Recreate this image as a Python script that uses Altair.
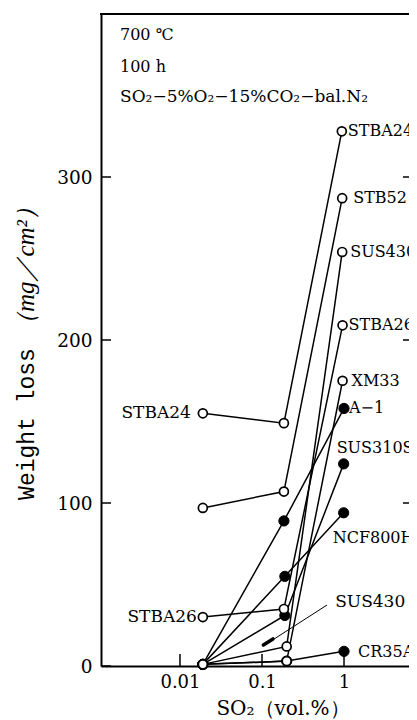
import altair as alt
import pandas as pd

# ---------------- data ----------------
series_names = ["STBA24", "STB52", "STBA26", "SUS430", "XM33",
                "A-1", "NCF800H", "SUS310S", "CR35A"]
series_filled = [False, False, False, False, False, True, True, True, True]

so2_STBA24 = [0.019, 0.185, 0.94]
so2_STB52 = [0.019, 0.185, 0.95]
so2_STBA26 = [0.019, 0.185, 0.96]
so2_SUS430 = [0.019, 0.2, 0.95]
so2_XM33 = [0.019, 0.2, 0.96]
so2_A1 = [0.019, 0.185, 1.0]
so2_NCF800H = [0.019, 0.19, 0.99]
so2_SUS310S = [0.019, 0.19, 0.99]
so2_CR35A = [0.019, 0.2, 1.0]

loss_STBA24 = [155, 149, 328]
loss_STB52 = [97, 107, 287]
loss_STBA26 = [30, 35, 209]
loss_SUS430 = [1, 12, 254]
loss_XM33 = [1, 3, 175]
loss_A1 = [1, 89, 158]
loss_NCF800H = [1, 55, 94]
loss_SUS310S = [1, 31, 124]
loss_CR35A = [1, 3, 9]

x_lists = [so2_STBA24, so2_STB52, so2_STBA26, so2_SUS430, so2_XM33,
           so2_A1, so2_NCF800H, so2_SUS310S, so2_CR35A]
y_lists = [loss_STBA24, loss_STB52, loss_STBA26, loss_SUS430, loss_XM33,
           loss_A1, loss_NCF800H, loss_SUS310S, loss_CR35A]

# label text, series, point index
label_texts = ["STBA24", "STB52", "SUS430", "STBA26", "XM33", "A\u22121",
               "SUS310S", "NCF800H", "CR35A", "STBA24", "STBA26"]
label_series = ["STBA24", "STB52", "SUS430", "STBA26", "XM33", "A-1",
                "SUS310S", "NCF800H", "CR35A", "STBA24", "STBA26"]
label_point = [2, 2, 2, 2, 2, 2, 2, 2, 2, 0, 0]

y_ticks = [0, 100, 200, 300]
x_ticks = [0.01, 0.1, 1]

notes = ["700 \u2103", "100 h",
         "SO\u2082\u22125%O\u2082\u221215%CO\u2082\u2212bal.N\u2082"]

# ---------------- build table ----------------
rows = []
for name, f, xs, ys in zip(series_names, series_filled, x_lists, y_lists):
    for i, (xv, yv) in enumerate(zip(xs, ys)):
        rows.append({"series": name, "filled": f, "so2": xv, "loss": yv, "i": i})
df = pd.DataFrame(rows)

W, H = 308, 652
SERIF = "DejaVu Serif"
xscale = alt.Scale(type="log", domain=[0.001089, 6.2], nice=False)
yscale = alt.Scale(domain=[0, 400], nice=False, zero=False)

xaxis = alt.Axis(values=x_ticks, format="~g", title=None, ticks=False,
                 tickSize=0, grid=False, domainColor="black",
                 domainWidth=2, labelFont=SERIF, labelFontSize=18,
                 labelColor="black", labelPadding=7, labelFlush=False)
yaxis = alt.Axis(values=y_ticks, title=None, ticks=False, tickSize=0,
                 grid=False, domainColor="black", domainWidth=2,
                 labelFont=SERIF, labelFontSize=18.5, labelColor="black",
                 labelPadding=9, labelFlush=False)


def X(field):
    return alt.X(field, scale=xscale, axis=xaxis)


def Y(field):
    return alt.Y(field, scale=yscale, axis=yaxis)


base = alt.Chart(df)

lines = base.mark_line(color="black", strokeWidth=1.5).encode(
    x=X("so2:Q"), y=Y("loss:Q"), detail="series:N", order="i:Q")

filled_pts = alt.Chart(df[df["filled"]]).mark_point(
    shape="circle", filled=True, fill="black", stroke="black",
    strokeWidth=1, size=105, opacity=1
).encode(x=X("so2:Q"), y=Y("loss:Q"))

open_pts = alt.Chart(df[~df["filled"]]).mark_point(
    shape="circle", filled=True, fill="white", stroke="black",
    strokeWidth=1.7, size=80, opacity=1
).encode(x=X("so2:Q"), y=Y("loss:Q"))

# ticks (inward) and top frame
ytick_df = pd.DataFrame({"v": y_ticks})
xtick_df = pd.DataFrame({"v": x_ticks})
left_ticks = alt.Chart(ytick_df).mark_rule(color="black", strokeWidth=1.5).encode(
    y=Y("v:Q"), x=alt.value(0), x2=alt.value(10))
right_ticks = alt.Chart(ytick_df[ytick_df["v"] > 0]).mark_rule(
    color="black", strokeWidth=1.5).encode(
    y=Y("v:Q"), x=alt.value(W - 6), x2=alt.value(W + 2))
bottom_ticks = alt.Chart(xtick_df).mark_rule(color="black", strokeWidth=1.5).encode(
    x=X("v:Q"), y=alt.value(H), y2=alt.value(H - 12))
top_frame = alt.Chart(pd.DataFrame({"v": [400]})).mark_rule(
    color="black", strokeWidth=2).encode(
    y=Y("v:Q"), x=alt.value(-1), x2=alt.value(W))

# point labels
label_style = [
    dict(dx=6, dy=0, align="left", fontSize=16),     # STBA24
    dict(dx=11, dy=0, align="left", fontSize=16),    # STB52
    dict(dx=8, dy=0, align="left", fontSize=16),     # SUS430
    dict(dx=6, dy=0, align="left", fontSize=16),     # STBA26
    dict(dx=9, dy=0, align="left", fontSize=16),     # XM33
    dict(dx=5, dy=0, align="left", fontSize=16),     # A-1
    dict(dx=-7, dy=-16, align="left", fontSize=16),  # SUS310S
    dict(dx=-11, dy=25, align="left", fontSize=16),  # NCF800H
    dict(dx=14, dy=1, align="left", fontSize=16),    # CR35A
    dict(dx=-12, dy=0, align="right", fontSize=17),  # STBA24 left
    dict(dx=-6, dy=0, align="right", fontSize=17),   # STBA26 left
]
label_layers = []
for txt, s, pi, st in zip(label_texts, label_series, label_point, label_style):
    sub = df[(df["series"] == s) & (df["i"] == pi)].copy()
    sub["label"] = txt
    label_layers.append(
        alt.Chart(sub).mark_text(font=SERIF, color="black",
                                 baseline="middle", **st).encode(
            x=X("so2:Q"), y=Y("loss:Q"), text="label:N"))

# SUS430 leader annotation
ann_df = pd.DataFrame({"label": ["SUS430"], "so2": [0.78], "loss": [39]})
ann_text = alt.Chart(ann_df).mark_text(font=SERIF, fontSize=17, color="black",
                                       align="left", baseline="middle").encode(
    x=X("so2:Q"), y=Y("loss:Q"), text="label:N")
leader_df = pd.DataFrame({"x1": [0.62], "y1": [37.4], "x2": [0.118], "y2": [14.1]})
leader = alt.Chart(leader_df).mark_rule(color="black", strokeWidth=1).encode(
    x=X("x1:Q"), y=Y("y1:Q"), x2="x2:Q", y2="y2:Q")
arrow_df = pd.DataFrame({"x1": [0.136], "y1": [16.6], "x2": [0.104], "y2": [12.9]})
arrow = alt.Chart(arrow_df).mark_rule(color="black", strokeWidth=3.5,
                                      strokeCap="round").encode(
    x=X("x1:Q"), y=Y("y1:Q"), x2="x2:Q", y2="y2:Q")

# condition notes, top-left
note_layers = []
for txt, yy, fs in zip(notes, [21, 53, 83], [16, 16, 17]):
    note_layers.append(
        alt.Chart(pd.DataFrame({"t": [txt]})).mark_text(
            font=SERIF, fontSize=fs, color="black", align="left",
            baseline="middle").encode(text="t:N", x=alt.value(19), y=alt.value(yy)))

# axis titles
x_title = alt.Chart(pd.DataFrame({"t": ["SO\u2082\uff08vol.%\uff09"]})).mark_text(
    font=SERIF, fontSize=20, color="black", align="center", baseline="middle"
).encode(text="t:N", x=alt.value(182), y=alt.value(H + 43))
y_title1 = alt.Chart(pd.DataFrame({"t": ["Weight loss"]})).mark_text(
    font="Liberation Mono", fontSize=23, color="black", align="center",
    baseline="alphabetic", angle=270
).encode(text="t:N", x=alt.value(-67), y=alt.value(410))
y_title2 = alt.Chart(pd.DataFrame({"t": ["\uff08mg\uff0fcm\u00b2\uff09"]})).mark_text(
    font="Liberation Serif", fontSize=25, fontStyle="italic", color="black",
    align="center", baseline="alphabetic", angle=270
).encode(text="t:N", x=alt.value(-67), y=alt.value(252))

chart = alt.layer(
    lines, left_ticks, right_ticks, bottom_ticks, top_frame,
    leader, arrow, filled_pts, open_pts, *label_layers, ann_text,
    *note_layers, x_title, y_title1, y_title2
).properties(
    width=W, height=H,
    padding={"left": 93, "top": 6, "right": 0, "bottom": 54},
    autosize=alt.AutoSizeParams(type="none"),
    background="white",
).configure_view(stroke=None)

chart.save("out.html", embed_options={"renderer": "svg", "actions": False})
